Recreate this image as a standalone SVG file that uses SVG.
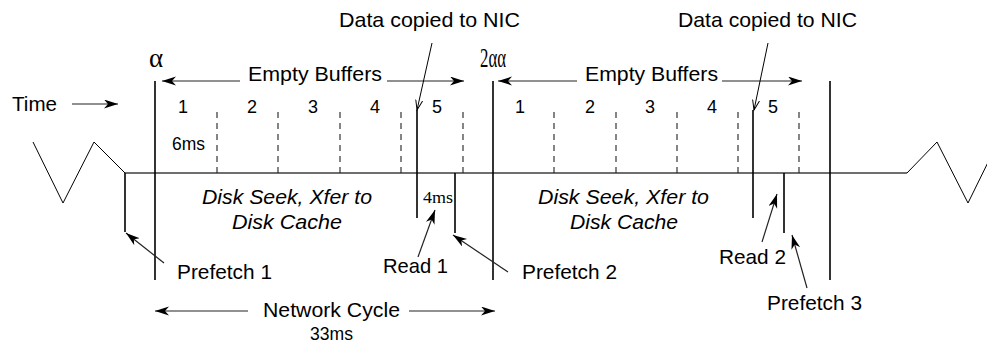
<svg xmlns="http://www.w3.org/2000/svg" width="987" height="343" viewBox="0 0 987 343">
  <style>
    .lbl { font-family: "Liberation Sans", Arial, sans-serif; font-size: 21px; fill: #000; }
    .ital { font-family: "Liberation Sans", Arial, sans-serif; font-size: 21px; font-style: italic; fill: #000; }
    .small { font-family: "Liberation Sans", Arial, sans-serif; font-size: 18px; fill: #000; }
    .sym { font-family: "Liberation Serif", "DejaVu Serif", serif; font-size: 27px; fill: #000; }
    .tms { font-family: "Liberation Serif", "Times New Roman", serif; font-size: 17px; fill: #000; }
    .axis { stroke: #6e6e6e; stroke-width: 2; fill: none; }
    .bar { stroke: #000; stroke-width: 1.6; fill: none; }
    .zig { stroke: #000; stroke-width: 1; fill: none; }
    .dash { stroke: #222; stroke-width: 1.1; stroke-dasharray: 6 5; fill: none; }
    .arr { stroke: #222; stroke-width: 1.2; fill: none; marker-end: url(#head); }
    .thin { stroke: #000; stroke-width: 1; fill: none; marker-end: url(#vee); }
  </style>
  <defs>
    <marker id="head" markerUnits="userSpaceOnUse" markerWidth="15" markerHeight="10" refX="14" refY="4.5" orient="auto">
      <path d="M0,0 L14,4.5 L0,9 L4,4.5 Z" fill="#000"/>
    </marker>
    <marker id="vee" markerUnits="userSpaceOnUse" markerWidth="12" markerHeight="10" refX="10" refY="4" orient="auto">
      <path d="M0,0.5 L10,4 L0,7.5" fill="none" stroke="#000" stroke-width="1"/>
    </marker>
  </defs>

  <!-- timeline axis and the cycles continuing off both ends -->
  <g id="timeline">
    <line class="axis" x1="125" y1="173" x2="907" y2="173"/>
    <polyline class="zig" points="33,142 63,203 94,142 125,173"/>
    <polyline class="zig" points="907,173 937,142 968,203 998,142"/>
  </g>

  <!-- buffer boundaries -->
  <g id="buffers">
    <line class="dash" x1="217" y1="112" x2="217" y2="173"/>
    <line class="dash" x1="278" y1="112" x2="278" y2="173"/>
    <line class="dash" x1="340" y1="112" x2="340" y2="173"/>
    <line class="dash" x1="401" y1="112" x2="401" y2="173"/>
    <line class="dash" x1="463" y1="112" x2="463" y2="173"/>
    <line class="dash" x1="554" y1="112" x2="554" y2="173"/>
    <line class="dash" x1="616" y1="112" x2="616" y2="173"/>
    <line class="dash" x1="677" y1="112" x2="677" y2="173"/>
    <line class="dash" x1="738" y1="112" x2="738" y2="173"/>
    <line class="dash" x1="799" y1="112" x2="799" y2="173"/>
    <g text-anchor="middle" class="small">
      <text x="183" y="113">1</text>
      <text x="252" y="113">2</text>
      <text x="313" y="113">3</text>
      <text x="375" y="113">4</text>
      <text x="437" y="113">5</text>
      <text x="520" y="113">1</text>
      <text x="590" y="113">2</text>
      <text x="650" y="113">3</text>
      <text x="712" y="113">4</text>
      <text x="773" y="113">5</text>
    </g>
    <text class="small" x="172" y="150" textLength="33" lengthAdjust="spacingAndGlyphs">6ms</text>
  </g>

  <!-- cycle markers -->
  <g id="cycle-start">
    <line class="bar" x1="155" y1="81" x2="155" y2="280"/>
    <text class="sym" x="156" y="67" text-anchor="middle">α</text>
  </g>
  <g id="cycle-mid">
    <line class="bar" x1="493" y1="81" x2="493" y2="280"/>
    <text class="sym" x="480" y="67" textLength="26" lengthAdjust="spacingAndGlyphs">2αα</text>
  </g>
  <g id="cycle-end">
    <line class="bar" x1="830" y1="81" x2="830" y2="280"/>
  </g>

  <!-- disk activity events -->
  <g id="prefetch1">
    <line class="bar" x1="125" y1="173" x2="125" y2="232"/>
    <text class="lbl" x="177" y="279" textLength="95" lengthAdjust="spacingAndGlyphs">Prefetch 1</text>
  </g>
  <g id="read1">
    <line class="bar" x1="417" y1="110" x2="417" y2="218"/>
    <text class="tms" x="423" y="203" textLength="30" lengthAdjust="spacingAndGlyphs">4ms</text>
    <text class="lbl" x="383" y="273" textLength="65" lengthAdjust="spacingAndGlyphs">Read 1</text>
  </g>
  <g id="prefetch2">
    <line class="bar" x1="455" y1="173" x2="455" y2="233"/>
    <text class="lbl" x="522" y="279" textLength="95" lengthAdjust="spacingAndGlyphs">Prefetch 2</text>
  </g>
  <g id="read2">
    <line class="bar" x1="753" y1="110" x2="753" y2="218"/>
    <text class="lbl" x="719" y="264" textLength="67" lengthAdjust="spacingAndGlyphs">Read 2</text>
  </g>
  <g id="prefetch3">
    <line class="bar" x1="784" y1="173" x2="784" y2="233"/>
    <text class="lbl" x="767" y="310" textLength="95" lengthAdjust="spacingAndGlyphs">Prefetch 3</text>
  </g>

  <!-- labels -->
  <g id="time-label">
    <text class="lbl" x="12" y="111" textLength="45" lengthAdjust="spacingAndGlyphs">Time</text>
  </g>
  <g id="buffers-label-1">
    <text class="lbl" x="248" y="81" textLength="134" lengthAdjust="spacingAndGlyphs">Empty Buffers</text>
  </g>
  <g id="buffers-label-2">
    <text class="lbl" x="585" y="81" textLength="133" lengthAdjust="spacingAndGlyphs">Empty Buffers</text>
  </g>
  <g id="nic-label-1">
    <text class="lbl" x="339" y="27" textLength="181" lengthAdjust="spacingAndGlyphs">Data copied to NIC</text>
  </g>
  <g id="nic-label-2">
    <text class="lbl" x="678" y="27" textLength="179" lengthAdjust="spacingAndGlyphs">Data copied to NIC</text>
  </g>
  <g id="seek-label-1">
    <text class="ital" x="202" y="204" textLength="170" lengthAdjust="spacingAndGlyphs">Disk Seek, Xfer to</text>
    <text class="ital" x="232" y="229" textLength="110" lengthAdjust="spacingAndGlyphs">Disk Cache</text>
  </g>
  <g id="seek-label-2">
    <text class="ital" x="538" y="204" textLength="171" lengthAdjust="spacingAndGlyphs">Disk Seek, Xfer to</text>
    <text class="ital" x="570" y="229" textLength="108" lengthAdjust="spacingAndGlyphs">Disk Cache</text>
  </g>
  <g id="network-label">
    <text class="lbl" x="263" y="317" textLength="137" lengthAdjust="spacingAndGlyphs">Network Cycle</text>
    <text class="small" x="310" y="340" textLength="43" lengthAdjust="spacingAndGlyphs">33ms</text>
  </g>

  <!-- connectors -->
  <g id="connectors">
    <line class="arr" x1="72" y1="104" x2="118" y2="104"/>
    <line class="arr" x1="240" y1="81" x2="162" y2="81"/>
    <line class="arr" x1="387" y1="81" x2="464" y2="81"/>
    <line class="arr" x1="577" y1="81" x2="498" y2="81"/>
    <line class="arr" x1="722" y1="81" x2="802" y2="81"/>
    <line class="thin" x1="432" y1="43" x2="417" y2="110"/>
    <line class="thin" x1="768" y1="43" x2="754" y2="110"/>
    <line class="arr" x1="164" y1="263" x2="126" y2="233"/>
    <line class="arr" x1="418" y1="257" x2="435" y2="210"/>
    <line class="arr" x1="508" y1="272" x2="453" y2="235"/>
    <line class="arr" x1="762" y1="242" x2="777" y2="194"/>
    <line class="arr" x1="807" y1="288" x2="792" y2="235"/>
    <line class="arr" x1="248" y1="311" x2="155" y2="311"/>
    <line class="arr" x1="409" y1="311" x2="495" y2="311"/>
  </g>
</svg>
